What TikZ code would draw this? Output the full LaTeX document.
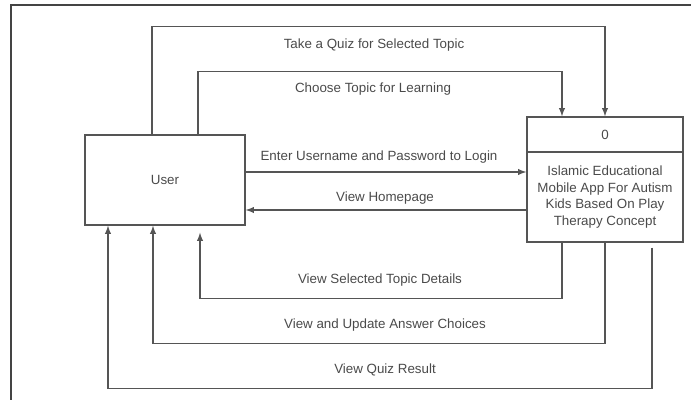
\documentclass[tikz,border=0pt]{standalone}
\usepackage{fontspec}
\setmainfont{Liberation Sans}
\usepackage{xcolor}
\usepackage{tikz}
\usetikzlibrary{calc}
\usetikzlibrary{arrows}
\usetikzlibrary{positioning}

\definecolor{linegray}{HTML}{555555}
\definecolor{textgray}{HTML}{4A4A4A}
\tikzset{
  entity/.style={rectangle, draw=linegray, line width=1pt, minimum width=4cm, minimum height=2.25cm, text=textgray},
  procbox/.style={rectangle, draw=linegray, line width=1pt, minimum width=3.9cm, text=textgray, align=center},
  flow/.style={-latex, draw=linegray, line width=1pt},
  flowlabel/.style={text=textgray, inner sep=0pt}
}

\begin{document}
\begin{tikzpicture}[x=0.025cm, y=-0.025cm, font=\fontsize{9.5}{11.7}\selectfont]
\useasboundingbox (0,0) rectangle (691,400);
% outer frame
\draw [draw=linegray!80!black, line width=1.4pt] (11,420) -- (11,5) -- (710,5);

\node [entity] (U) at (165,180) {User};
\node [procbox, minimum height=0.875cm] (H) at (605,134.5) {0};
\node [procbox, minimum height=2.25cm] (P) at (605,197) {Islamic Educational\\Mobile App For Autism\\Kids Based On Play\\Therapy Concept};

% user to system
\draw [flow] ([xshift=-0.325cm]U.north) -- ++(0,-108) -| (H.north);
\draw [flow] ([xshift=0.825cm]U.north) -- ++(0,-63) -| ([xshift=-1.075cm]H.north);
\draw [flow] ([yshift=0.2cm]U.east) -- ([yshift=0.2cm]U.east -| P.west);

% system to user
\draw [flow] ([yshift=-0.75cm]U.east -| P.west) -- ([yshift=-0.75cm]U.east);
\draw [flow] ([xshift=-1.075cm]P.south) -- ++(0,56) -| ([xshift=0.875cm, yshift=-0.175cm]U.south);
\draw [flow] (P.south) -- ++(0,101) -| ([xshift=-0.3cm]U.south);
\draw [flow] ([xshift=1.175cm, yshift=-0.125cm]P.south) -- ++(0,141) -| ([xshift=-1.425cm]U.south);

\node [flowlabel] (lquiz) at (374,45) {Take a Quiz for Selected Topic};
\node [flowlabel] (ltopic) at (373,89) {Choose Topic for Learning};
\node [flowlabel] (llogin) at (379,157) {Enter Username and Password to Login};
\node [flowlabel] (lhome) at (385,198) {View Homepage};
\node [flowlabel] (ldetails) at (380,280) {View Selected Topic Details};
\node [flowlabel] (lanswer) at (385,325) {View and Update Answer Choices};
\node [flowlabel] (lresult) at (385,370) {View Quiz Result};
\end{tikzpicture}
\end{document}
